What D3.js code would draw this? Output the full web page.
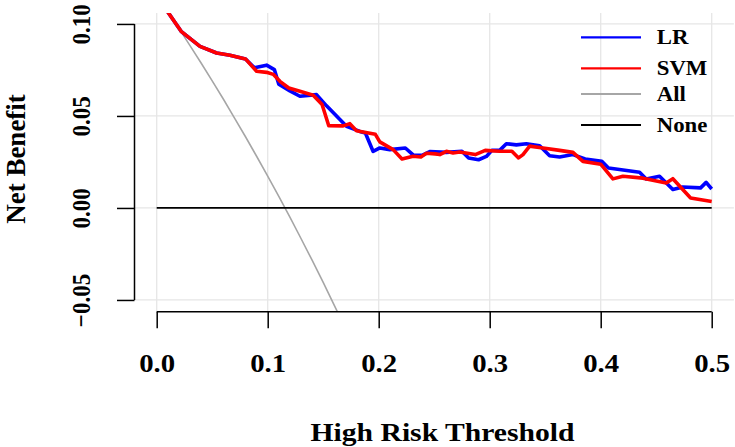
<!DOCTYPE html>
<html><head><meta charset="utf-8">
<script src="https://cdn.jsdelivr.net/npm/d3@7"></script>
<style>html,body{margin:0;padding:0;background:#fff;} svg{display:block;}</style>
</head><body><svg id="chart" width="735" height="447"></svg>
<script>
// ---------- data ----------
const xTicks = [0, 0.1, 0.2, 0.3, 0.4, 0.5];
const xTickLabels = ["0.0", "0.1", "0.2", "0.3", "0.4", "0.5"];
const yTicks = [-0.05, 0, 0.05, 0.10];
const yTickLabels = ["\u22120.05", "0.00", "0.05", "0.10"];
const seriesNames = ["LR", "SVM", "All", "None"];
const seriesColors = ["#0000FF", "#FF0000", "#A6A6A6", "#000000"];

const lrThreshold = [0, 0.010, 0.022, 0.039, 0.054, 0.066, 0.080, 0.088, 0.099, 0.106, 0.110, 0.120, 0.129, 0.144, 0.153, 0.171, 0.183, 0.188, 0.195, 0.201, 0.210, 0.224, 0.231, 0.239, 0.246, 0.261, 0.275, 0.281, 0.290, 0.297, 0.302, 0.309, 0.315, 0.324, 0.333, 0.345, 0.354, 0.363, 0.375, 0.386, 0.401, 0.407, 0.435, 0.441, 0.453, 0.465, 0.474, 0.490, 0.495, 0.500];
const lrNetBenefit = [0.1156, 0.1065, 0.0960, 0.0878, 0.0842, 0.0830, 0.0810, 0.0762, 0.0776, 0.0752, 0.0672, 0.0636, 0.0607, 0.0616, 0.0555, 0.0444, 0.0416, 0.0407, 0.0307, 0.0326, 0.0317, 0.0326, 0.0288, 0.0286, 0.0306, 0.0302, 0.0308, 0.0272, 0.0262, 0.0280, 0.0313, 0.0313, 0.0349, 0.0343, 0.0349, 0.0338, 0.0284, 0.0277, 0.0290, 0.0266, 0.0253, 0.0217, 0.0194, 0.0157, 0.0172, 0.0100, 0.0114, 0.0109, 0.0139, 0.0103];

const svmThreshold = [0, 0.010, 0.022, 0.039, 0.054, 0.066, 0.080, 0.090, 0.099, 0.105, 0.111, 0.119, 0.129, 0.141, 0.149, 0.155, 0.168, 0.174, 0.180, 0.186, 0.197, 0.201, 0.213, 0.221, 0.231, 0.238, 0.243, 0.251, 0.255, 0.261, 0.267, 0.273, 0.287, 0.296, 0.309, 0.320, 0.326, 0.330, 0.336, 0.348, 0.363, 0.375, 0.384, 0.400, 0.411, 0.420, 0.438, 0.459, 0.465, 0.481, 0.500];
const svmNetBenefit = [0.1156, 0.1065, 0.0960, 0.0878, 0.0842, 0.0830, 0.0810, 0.0743, 0.0737, 0.0726, 0.0688, 0.0652, 0.0634, 0.0612, 0.0562, 0.0447, 0.0446, 0.0458, 0.0420, 0.0413, 0.0400, 0.0359, 0.0317, 0.0266, 0.0281, 0.0277, 0.0297, 0.0294, 0.0290, 0.0308, 0.0299, 0.0304, 0.0290, 0.0313, 0.0308, 0.0308, 0.0272, 0.0290, 0.0336, 0.0326, 0.0313, 0.0302, 0.0253, 0.0238, 0.0158, 0.0172, 0.0162, 0.0136, 0.0159, 0.0054, 0.0035];

const allThreshold = [0, 0.01, 0.02, 0.03, 0.04, 0.05, 0.06, 0.07, 0.08, 0.09, 0.10, 0.11, 0.12, 0.13, 0.14, 0.15, 0.16, 0.17];
const allNetBenefit = [0.1156, 0.1067, 0.0976, 0.0882, 0.0788, 0.0691, 0.0592, 0.0490, 0.0387, 0.0281, 0.0173, 0.0063, -0.0050, -0.0166, -0.0284, -0.0405, -0.0529, -0.0655];

const noneThreshold = [0, 0.5];
const noneNetBenefit = [0, 0];

const xTitle = "High Risk Threshold";
const yTitle = "Net Benefit";

// ---------- layout ----------
const FONT = "'Liberation Serif', 'Times New Roman', serif";
const SX = 1.14; // horizontal stretch of the reference
const svg = d3.select("#chart");

const x = d3.scaleLinear().domain([-0.02, 0.52]).range([134.5, 733.9]);
const y = d3.scaleLinear().domain([-0.056, 0.106]).range([311.0, 12.9]);

const [px0, px1] = x.range();
const [py0, py1] = y.range();

svg.append("defs").append("clipPath").attr("id", "plotclip")
  .append("rect").attr("x", px0).attr("y", py1).attr("width", px1 - px0).attr("height", py0 - py1);

// gridlines
const grid = svg.append("g").attr("stroke", "#E6E6E6").attr("stroke-width", 1.3);
grid.selectAll("line.v").data(xTicks).join("line").attr("class", "v")
  .attr("x1", d => x(d)).attr("x2", d => x(d)).attr("y1", py1).attr("y2", py0);
grid.selectAll("line.h").data(yTicks).join("line").attr("class", "h")
  .attr("y1", d => y(d)).attr("y2", d => y(d)).attr("x1", px0).attr("x2", px1);

// lines
const line = d3.line().x(d => x(d[0])).y(d => y(d[1]));
const plot = svg.append("g").attr("clip-path", "url(#plotclip)")
  .attr("fill", "none").attr("stroke-linejoin", "round").attr("stroke-linecap", "butt");

const zip = (a, b) => a.map((v, i) => [v, b[i]]);
plot.append("path").datum(zip(allThreshold, allNetBenefit)).attr("d", line)
  .attr("stroke", seriesColors[2]).attr("stroke-width", 1.6);
plot.append("path").datum(zip(noneThreshold, noneNetBenefit)).attr("d", line)
  .attr("stroke", seriesColors[3]).attr("stroke-width", 1.8);
plot.append("path").datum(zip(lrThreshold, lrNetBenefit)).attr("d", line)
  .attr("stroke", seriesColors[0]).attr("stroke-width", 3.6);
plot.append("path").datum(zip(svmThreshold, svmNetBenefit)).attr("d", line)
  .attr("stroke", seriesColors[1]).attr("stroke-width", 3.6);

// x axis
const xAxisG = svg.append("g").attr("transform", `translate(0,${py0 + 0.7})`)
  .call(d3.axisBottom(x).tickValues(xTicks).tickSize(16.5).tickSizeOuter(0)
    .tickFormat((d, i) => xTickLabels[i]));
xAxisG.select(".domain").remove();
xAxisG.append("line").attr("x1", x(xTicks[0])).attr("x2", x(xTicks[xTicks.length - 1]))
  .attr("y1", 0).attr("y2", 0).attr("stroke", "#000").attr("stroke-width", 1.5);
xAxisG.selectAll(".tick line").attr("stroke", "#000").attr("stroke-width", 1.5);
xAxisG.selectAll(".tick text")
  .attr("y", 0).attr("dy", 0).attr("fill", "#000")
  .attr("transform", `translate(0,60) scale(1.15,1)`)
  .attr("font-family", FONT).attr("font-weight", "bold").attr("font-size", 25)
  .attr("text-anchor", "middle");

// y axis
const yAxisG = svg.append("g").attr("transform", `translate(${px0},0)`)
  .call(d3.axisLeft(y).tickValues(yTicks).tickSize(17.5).tickSizeOuter(0)
    .tickFormat((d, i) => yTickLabels[i]));
yAxisG.select(".domain").remove();
yAxisG.append("line").attr("y1", y(yTicks[0])).attr("y2", y(yTicks[yTicks.length - 1]))
  .attr("x1", 0).attr("x2", 0).attr("stroke", "#000").attr("stroke-width", 1.5);
yAxisG.selectAll(".tick line").attr("stroke", "#000").attr("stroke-width", 1.5);
yAxisG.selectAll(".tick text")
  .attr("x", 0).attr("y", 0).attr("dy", 0).attr("fill", "#000")
  .attr("transform", `translate(-44.5,0) scale(${SX},1) rotate(-90)`)
  .attr("font-family", FONT).attr("font-weight", "bold").attr("font-size", 23)
  .attr("text-anchor", "middle");

// axis titles
svg.append("text").text(xTitle)
  .attr("transform", `translate(442.5,440.5) scale(${SX},1)`)
  .attr("text-anchor", "middle").attr("font-family", FONT).attr("font-weight", "bold")
  .attr("font-size", 26).attr("fill", "#000");
svg.append("text").text(yTitle)
  .attr("transform", `translate(25,159) rotate(-90)`)
  .attr("text-anchor", "middle").attr("font-family", FONT).attr("font-weight", "bold")
  .attr("font-size", 27).attr("fill", "#000");

// legend
const legendY = [37.3, 68.3, 94, 125];
const legend = svg.append("g");
seriesNames.forEach((name, i) => {
  legend.append("line").attr("x1", 581).attr("x2", 641)
    .attr("y1", legendY[i]).attr("y2", legendY[i])
    .attr("stroke", seriesColors[i]).attr("stroke-width", 2.2);
  legend.append("text").text(name)
    .attr("transform", `translate(656.7,${legendY[i] + 7}) scale(${SX},1)`)
    .attr("font-family", FONT).attr("font-weight", "bold").attr("font-size", 20)
    .attr("fill", "#000");
});
</script>
</body></html>
